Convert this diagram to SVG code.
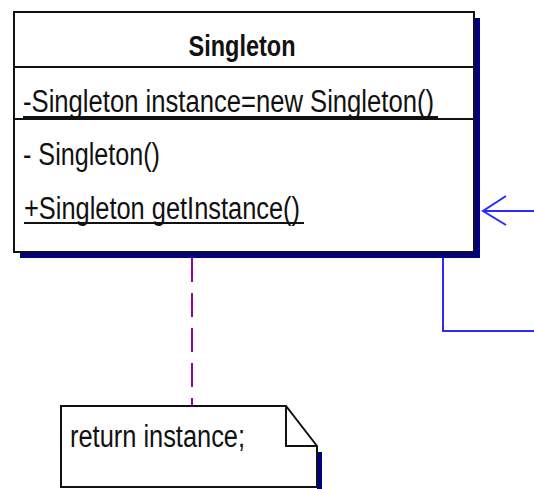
<svg xmlns="http://www.w3.org/2000/svg" width="534" height="489" viewBox="0 0 534 489">
  <style>
    .shadow { fill: #000080; }
    .box { fill: #ffffff; stroke: #111111; stroke-width: 2; }
    .sep { stroke: #111111; stroke-width: 2; fill: none; }
    .txt { font-family: "Liberation Sans", Arial, sans-serif; font-size: 31px; fill: #111111; }
    .title { font-family: "Liberation Sans", Arial, sans-serif; font-size: 29px; font-weight: bold; fill: #111111; }
    .ul { stroke: #111111; stroke-width: 2; }
    .assoc { stroke: #2a2aff; stroke-width: 2; fill: none; }
    .anchor { stroke: #990099; stroke-width: 2; fill: none; stroke-dasharray: 24 11; }
  </style>
  <g id="connectors">
    <path class="anchor" d="M192,258 L192,406"/>
    <path class="assoc" d="M534,211 L483,211 M506,196 L483,211 L506,225"/>
    <path class="assoc" d="M443,258 L443,331 L534,331"/>
  </g>
  <g id="singleton">
    <rect class="shadow" x="20" y="18" width="460" height="240"/>
    <rect class="box" x="14" y="12" width="460" height="240"/>
    <line class="sep" x1="14" y1="67" x2="474" y2="67"/>
    <line class="sep" x1="14" y1="119" x2="474" y2="119"/>
    <text class="title" x="242" y="56" text-anchor="middle" textLength="107" lengthAdjust="spacingAndGlyphs">Singleton</text>
    <text class="txt" x="23" y="112" textLength="411" lengthAdjust="spacingAndGlyphs">-Singleton instance=new Singleton()</text>
    <line class="ul" x1="23" y1="117" x2="438" y2="117"/>
    <text class="txt" x="23" y="165" textLength="137" lengthAdjust="spacingAndGlyphs">- Singleton()</text>
    <text class="txt" x="24" y="219" textLength="276" lengthAdjust="spacingAndGlyphs">+Singleton getInstance()</text>
    <line class="ul" x1="24" y1="223" x2="304" y2="223"/>
  </g>
  <g id="note">
    <rect class="shadow" x="317" y="452" width="5" height="37"/>
    <path class="box" d="M61,406 L286,406 L317,446 L317,487 L61,487 Z"/>
    <path class="sep" d="M286,406 L286,446 L317,446"/>
    <text class="txt" x="70" y="447" textLength="175" lengthAdjust="spacingAndGlyphs">return instance;</text>
  </g>
</svg>
